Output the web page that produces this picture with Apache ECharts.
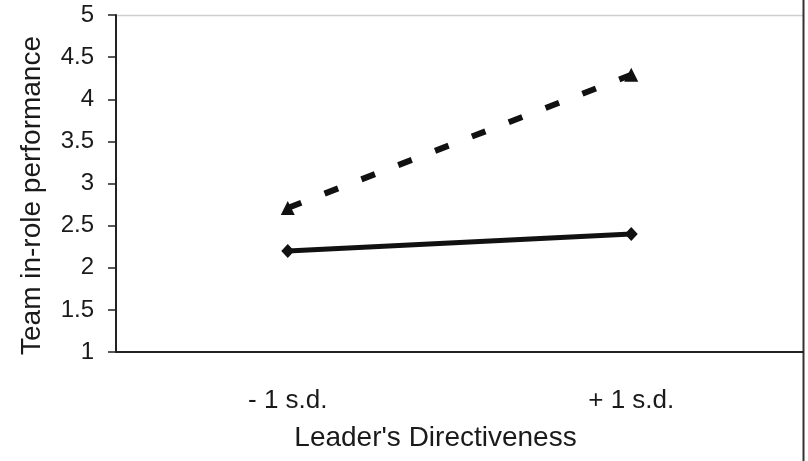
<!DOCTYPE html>
<html><head><meta charset="utf-8">
<script src="https://cdn.jsdelivr.net/npm/echarts@6/dist/echarts.min.js"></script>
<style>html,body{margin:0;padding:0;background:#fff}#c{width:808px;height:461px}</style>
</head><body><div id="c"></div>
<script>
var categories = ['- 1 s.d.', '+ 1 s.d.'];
var solidSeries = [2.2, 2.4];
var dashedSeries = [2.71, 4.29];
var yTicks = [1, 1.5, 2, 2.5, 3, 3.5, 4, 4.5, 5];

var chart = echarts.init(document.getElementById('c'));
var font = 'Liberation Sans, Arial, sans-serif';
chart.setOption({
  animation: false,
  grid: {left: 116, right: 5, top: 15, bottom: 109},
  xAxis: {
    type: 'category', data: categories, boundaryGap: true,
    name: "Leader's Directiveness", nameLocation: 'middle', nameGap: 72,
    nameTextStyle: {fontSize: 28, color: '#1a1a1a', fontFamily: font, padding: [0, 48, 0, 0]},
    axisLine: {lineStyle: {color: '#222', width: 2}},
    axisTick: {inside: true, length: 7, lineStyle: {color: '#222', width: 1.5}},
    axisLabel: {fontSize: 26, color: '#1a1a1a', fontFamily: font, margin: 36}
  },
  yAxis: {
    type: 'value', min: yTicks[0], max: yTicks[yTicks.length - 1], interval: 0.5,
    name: 'Team in-role performance', nameLocation: 'middle', nameGap: 70,
    nameTextStyle: {fontSize: 28, color: '#1a1a1a', fontFamily: font, padding: [0, 24, 0, 0]},
    axisLine: {show: true, lineStyle: {color: '#222', width: 2}},
    axisTick: {show: true, length: 8, lineStyle: {color: '#222', width: 1.5}},
    axisLabel: {fontSize: 24, color: '#1a1a1a', fontFamily: font, margin: 22},
    splitLine: {show: false}
  },
  graphic: [
    {type: 'line', shape: {x1: 116, y1: 15.5, x2: 803, y2: 15.5}, style: {stroke: '#cfcfcf', lineWidth: 1.5}},
    {type: 'line', shape: {x1: 803.5, y1: 0, x2: 803.5, y2: 461}, style: {stroke: '#333', lineWidth: 2}}
  ],
  series: [
    {type: 'line', data: solidSeries, symbol: 'diamond', symbolSize: [13, 14],
     lineStyle: {color: '#111', width: 5}, itemStyle: {color: '#111'}},
    {type: 'line', data: dashedSeries, symbol: 'triangle', symbolSize: 14,
     lineStyle: {color: '#111', width: 6, type: [14.5, 25], dashOffset: 0}, itemStyle: {color: '#111'}}
  ]
});
</script></body></html>
